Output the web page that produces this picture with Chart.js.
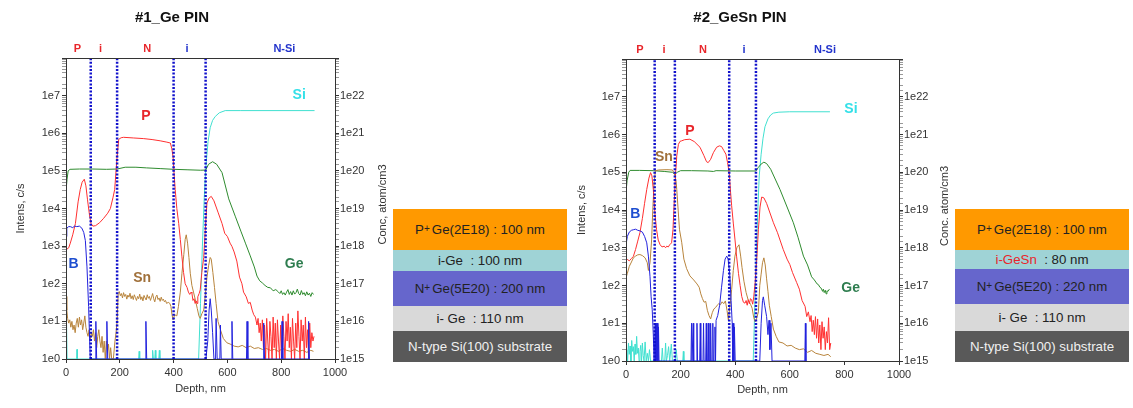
<!DOCTYPE html>
<html>
<head>
<meta charset="utf-8">
<script src="https://cdn.jsdelivr.net/npm/chart.js@4.4.1/dist/chart.umd.min.js"></script>
<style>
  body { margin: 0; background: #fff; width: 1133px; height: 408px; position: relative; overflow: hidden;
         font-family: "Liberation Sans", Arial, sans-serif; }
  canvas { position: absolute; top: 0; }
  .stack { position: absolute; top: 209px; width: 174px; }
  .stack div { display: flex; align-items: center; justify-content: center; font-size: 13.3px; color: #222; white-space: pre; }
  .stack sup { font-size: 10px; position: relative; top: -1px; margin-right: 2px; }
</style>
</head>
<body>
<canvas id="c1" width="395" height="408" style="left:0px"></canvas>
<canvas id="c2" width="395" height="408" style="left:560px"></canvas>
<div class="stack" id="stack1" style="left:393px"></div>
<div class="stack" id="stack2" style="left:955px"></div>

<script>
// =============================================================
// DATA  (depth nm, intensity c/s)
// =============================================================
const REGION_NAMES  = ['P', 'i', 'N', 'i', 'N-Si'];
const REGION_COLORS = ['#e8262b', '#e8262b', '#e8262b', '#2233cc', '#2233cc'];
const REGION_AT1 = [42, 128, 302, 450, 812];
const REGION_AT2 = [51, 139, 282, 432, 729];

const BOUND1 = [92, 190, 400, 519];
const BOUND2 = [105, 179, 378, 476];

const X_TICKS = [0, 200, 400, 600, 800, 1000];

// ---- #1 Ge PIN ----
const GE1 = [[0,3e4],[4,6e4],[8,1.0e5],[15,1.1e5],[50,1.12e5],[100,1.12e5],[150,1.1e5],[190,1.12e5],[220,1.25e5],[260,1.25e5],[300,1.2e5],[350,1.15e5],[400,1.1e5],[450,1.07e5],[500,1.04e5],[519,1.05e5],[530,1.5e5],[545,1.75e5],[560,1.5e5],[580,9e4],[605,1.8e4],[630,6e3],[650,2.5e3],[667,1.2e3],[685,5.5e2],[700,2.8e2],[710,1.6e2],[720,1.2e2],[730,1.05e2],[740,9e1],[750,8e1],[760,7.8e1],[770,6.5e1],[780,7e1],[790,6e1],[795,5.5e1],[800,6.5e1],[805,5.2e1],[810,5.8e1],[815,5.0e1],[820,6.0e1],[825,7e1],[830,5.2e1],[835,6.2e1],[840,5.0e1],[845,6.5e1],[850,5.3e1],[855,5.8e1],[860,7.2e1],[865,5.5e1],[870,5.0e1],[875,6.6e1],[880,5.2e1],[885,5.8e1],[890,4.8e1],[895,6.1e1],[900,5.0e1],[905,5.6e1],[910,4.6e1],[915,5.8e1],[920,5.2e1]];

const SI1 = [[0,1],[2,8],[4,1],[40,1],[41,1.8],[42,1],[270,1],[272,1.6],[274,1],[320,1],[322,1.7],[325,1],[330,1],[332,1.7],[334,1],[345,1],[347,1.7],[349,1],[493,1],[500,30],[507,1e3],[514,2e4],[520,1.3e5],[528,6e5],[536,1.4e6],[545,2.2e6],[555,2.8e6],[570,3.5e6],[592,4.0e6],[650,4.0e6],[924,4.0e6]];

const P1 = [[0,8e2],[10,9e2],[16,1.2e3],[25,2e3],[35,4e3],[45,1.5e4],[53,3.2e4],[60,5e4],[68,6e4],[74,4e4],[80,1.7e4],[87,7e3],[93,4e3],[100,3.4e3],[110,3.5e3],[125,4.2e3],[140,5.5e3],[155,7.5e3],[165,1e4],[175,2e4],[181,3.2e4],[186,1e5],[190,2.4e5],[196,6.9e5],[205,7.6e5],[214,7.8e5],[250,7.5e5],[289,7.2e5],[320,6.8e5],[350,6.3e5],[375,5.8e5],[388,5.5e5],[393,4e5],[398,2.4e5],[402,8e4],[406,3.2e4],[412,1e4],[419,4e3],[425,1.5e3],[431,5.2e2],[437,2e2],[443,1e2],[450,8e1],[455,6e1],[460,5.2e1],[465,6e1],[468,5.6e1],[472,3.6e1],[476,4e1],[480,3e1],[484,3.5e1],[487,3e1],[490,4.5e1],[495,5.5e1],[499,6.9e1],[505,2e2],[512,5e2],[518,3e3],[524,1.4e4],[532,1.9e4],[540,2.1e4],[550,1.6e4],[565,8e3],[580,4e3],[590,2.2e3],[600,1.8e3],[610,1.2e3],[617,9.8e2],[625,7e2],[635,4e2],[645,1.5e2],[654,1e2],[660,6e1],[670,4.5e1],[678,3e1],[685,3.2e1],[692,2e1],[698,1.5e1],[704,1.3e1],[710,8],[714,1.2e1],[718,5],[722,9],[726,3],[730,1.1e1],[734,2],[738,8],[742,1],[746,1.2e1],[750,3],[754,1],[758,1e1],[762,4],[766,1],[770,1.3e1],[774,2],[778,9],[782,1],[786,1.1e1],[790,3],[794,1],[798,8],[802,2],[806,1.4e1],[810,4],[814,1],[818,1e1],[822,3],[826,1.6e1],[830,2],[834,7],[838,1],[842,1.2e1],[846,3],[850,1],[854,9],[858,2],[862,1.9e1],[866,4],[870,1],[874,1.1e1],[878,3],[882,8],[886,1],[890,1.3e1],[894,2],[898,6],[902,1],[906,9],[910,2],[914,5],[918,3],[922,4]];

const B1 = [[0,1.8e3],[3,3e3],[10,3.3e3],[16,3.3e3],[25,3.1e3],[32,3.4e3],[40,3.3e3],[50,3.4e3],[59,3.0e3],[66,2.3e3],[72,1.4e3],[78,2.8e2],[84,2.5e1],[88,3],[90,1],[108,1],[111,1e1],[114,1],[150,1],[152,1e1],[155,1],[295,1],[297,1e1],[300,1],[520,1],[527,3],[532,2e1],[536,4e1],[540,2e1],[545,5],[550,1],[556,1],[558,1.2e1],[562,1],[572,1],[574,8],[577,1],[615,1],[617,1e1],[620,1],[671,1],[673,1e1],[676,1],[733,1],[735,9],[738,1],[801,1],[803,1e1],[806,1],[900,1],[902,1e1],[905,1]];

const SN1 = [[0,4.6e1],[3,2e1],[6,1.2e1],[10,9],[14,1.1e1],[18,7],[22,1e1],[26,6],[30,8],[34,5],[38,9],[42,1.2e1],[46,7],[50,1.3e1],[54,8],[58,1.1e1],[62,6],[66,9],[70,1.4e1],[74,7],[78,5],[82,4],[86,6],[90,3],[94,5],[98,4],[102,6],[106,3],[110,5],[114,2],[118,4],[122,6],[126,3],[130,2],[134,4],[138,1.5],[142,3],[146,1],[150,3],[154,1.5],[158,2.5],[162,1],[166,2],[170,1],[176,1],[182,3],[186,5],[190,1e1],[194,5.5e1],[198,6.2e1],[202,4.8e1],[206,5.5e1],[210,4.2e1],[214,5.8e1],[218,4.6e1],[222,5.2e1],[226,3.9e1],[230,5e1],[234,4.4e1],[238,5.6e1],[242,4e1],[246,4.8e1],[250,3.8e1],[254,5.1e1],[258,4.3e1],[262,3.6e1],[266,4.6e1],[270,4e1],[274,5.3e1],[278,3.8e1],[282,4.5e1],[286,3.5e1],[290,4.9e1],[294,4.2e1],[298,3.7e1],[302,5.1e1],[306,4.1e1],[310,4.6e1],[314,3.6e1],[318,4.4e1],[322,5.5e1],[326,4e1],[330,3.3e1],[334,4.5e1],[338,5e1],[342,3.8e1],[346,4.2e1],[350,3.4e1],[354,4.4e1],[358,3.6e1],[362,3.9e1],[366,3.3e1],[370,3.6e1],[374,3e1],[380,3.2e1],[386,3e1],[390,2.5e1],[394,1.5e1],[398,1.1e1],[404,1.5e1],[412,1.4e1],[418,2.5e1],[425,6e1],[431,1.9e2],[438,6e2],[443,1.5e3],[447,2e3],[452,1.2e3],[457,5e2],[462,1.9e2],[468,9e1],[474,6e1],[481,3.7e1],[488,2.2e1],[494,1.4e1],[499,1.2e1],[505,1.6e1],[512,2e1],[518,5e1],[524,1.5e2],[530,3e2],[536,5e2],[540,4.5e2],[546,2e2],[552,8e1],[558,3e1],[565,1e1],[574,6],[585,3.5],[598,2.7],[610,2.5],[625,2.2],[640,2.1],[655,2.3],[670,2],[685,2.2],[700,1.9],[715,2],[730,1.8],[745,1.9],[760,1.7],[775,1.8],[790,1.6],[805,1.9],[820,1.7],[835,1.6],[850,1.8],[865,1.6],[880,1.7],[895,1.5],[910,1.7],[920,1.6]];

// ---- #2 GeSn PIN ----
const GE2 = [[0,3e4],[4,6e4],[10,1.0e5],[15,1.12e5],[50,1.12e5],[100,1.1e5],[140,1.05e5],[170,1.0e5],[179,8.8e4],[188,1.0e5],[200,1.1e5],[240,1.1e5],[300,1.08e5],[320,1.05e5],[330,1.1e5],[400,1.08e5],[476,1.08e5],[485,1.35e5],[495,1.65e5],[505,1.85e5],[515,1.7e5],[530,1.2e5],[564,3.5e4],[590,1.2e4],[613,4.6e3],[630,1.9e3],[650,6e2],[665,3.5e2],[680,1.7e2],[690,1.4e2],[700,1.1e2],[705,1.05e2],[710,9e1],[715,8.5e1],[720,7e1],[723,8e1],[726,6.5e1],[730,7.5e1],[733,6e1],[736,7.2e1],[740,7e1],[745,8e1]];

const SI2 = [[0,1],[3,2],[6,1],[9,3],[12,1.5],[15,2.5],[18,1],[21,3.5],[24,1.8],[27,2.4],[30,1],[33,2.8],[36,1.5],[39,4.5],[42,1.6],[45,2.2],[48,1],[51,1.8],[54,2.6],[57,1],[60,3],[63,1.4],[66,1],[70,3.2],[74,1],[78,1.6],[82,1],[86,2],[90,1],[130,1],[133,2.2],[136,1],[142,1],[145,3],[148,1],[152,1.4],[156,2.4],[160,1],[166,2.8],[170,1],[180,1],[184,2],[188,1],[208,1],[210,1.8],[212,1],[466,1],[472,30],[478,1e3],[483,1e4],[488,8e4],[495,3e5],[502,8e5],[509,1.6e6],[520,2.6e6],[530,3.3e6],[540,3.7e6],[560,3.9e6],[600,4.0e6],[747,4.0e6]];

const P2 = [[0,4.5e2],[5,4.9e2],[12,4.5e2],[20,5.2e2],[27,5.9e2],[35,9e2],[43,1.5e3],[51,2.5e3],[60,6e3],[68,1.5e4],[76,3.5e4],[84,7e4],[90,9.8e4],[95,8e4],[100,3.5e4],[106,8e3],[112,3e3],[118,1.6e3],[125,1.2e3],[132,1.05e3],[140,1.1e3],[145,1.0e3],[149,1.1e3],[155,1.05e3],[160,1.2e3],[167,1.35e3],[172,3e3],[176,1.3e4],[181,8e4],[186,2.7e5],[192,5.5e5],[198,6.6e5],[204,6.8e5],[215,7.3e5],[234,7.5e5],[250,6.5e5],[271,4.6e5],[285,2.8e5],[295,1.9e5],[301,1.8e5],[310,2.2e5],[320,3.3e5],[332,4.6e5],[342,5e5],[350,4.8e5],[358,3.8e5],[366,3e5],[372,1.8e5],[378,9.8e4],[383,3e4],[387,1.3e4],[393,4.5e3],[399,1.7e3],[405,6e2],[412,2.1e2],[418,1e2],[424,5.1e1],[430,3.6e1],[436,3.4e1],[440,4e1],[444,3e1],[448,4.2e1],[452,3.3e1],[456,4.5e1],[460,4.2e1],[464,3.2e1],[468,5e1],[473,1.2e2],[479,5e2],[485,3e3],[491,1.2e4],[497,2.2e4],[505,2.1e4],[515,1.5e4],[540,4.6e3],[555,2.5e3],[576,9e2],[590,5e2],[600,3.6e2],[610,2.2e2],[625,1.2e2],[635,8e1],[645,4e1],[656,2.8e1],[662,1.5e1],[668,2e1],[674,1.1e1],[678,1.6e1],[682,6],[686,1.2e1],[690,5],[694,1.5e1],[698,4],[702,1.3e1],[706,3],[710,9],[714,2],[718,1.1e1],[722,4],[726,8],[730,2],[734,6],[738,3],[742,1.4e1],[746,2],[750,3]];

const B2 = [[0,1.2e3],[5,2e3],[12,2.6e3],[20,2.9e3],[27,3e3],[35,3.1e3],[43,2.9e3],[51,2.8e3],[60,2.6e3],[68,2.0e3],[76,1.35e3],[82,6e2],[88,1.7e2],[92,5e1],[96,2.3e1],[100,5],[103,1],[106,1],[107,1e1],[109,1],[111,1e1],[113,1],[115,1e1],[117,1],[119,8],[121,1],[238,1],[240,1e1],[242,1],[246,1e1],[248,1],[258,1],[260,1e1],[262,1],[270,1],[272,1e1],[274,1],[282,1],[284,1e1],[286,1],[292,1],[294,1e1],[296,1],[300,1],[302,1e1],[304,1],[308,1],[310,1e1],[312,1],[316,1],[318,1e1],[320,1],[324,1],[326,8],[328,1],[330,1.2e1],[336,1.6e1],[343,3e1],[350,9e1],[357,2.5e2],[363,5e2],[369,6e2],[374,5e2],[380,2e2],[385,4e1],[389,1e1],[391,1],[393,1e1],[395,1],[397,8],[400,1],[490,1],[495,1e1],[500,4e1],[503,5e1],[508,3e1],[515,1.5e1],[520,5],[524,1.2e1],[527,2],[531,1e1],[535,1],[655,1],[657,1e1],[659,1]];

const SN2 = [[0,1.6e2],[5,2.1e2],[12,3.2e2],[20,4.2e2],[27,5.4e2],[35,6e2],[43,6.5e2],[51,6.6e2],[60,6.2e2],[70,5.4e2],[78,4e2],[82,2.5e2],[88,4e2],[94,1.7e3],[98,1e4],[103,5.4e4],[108,1.1e5],[120,1.15e5],[150,1.17e5],[170,1.15e5],[178,9e4],[183,6e4],[186,3.5e4],[191,1e4],[196,3e3],[204,1.4e3],[212,5e2],[222,2.8e2],[234,1.8e2],[248,1.4e2],[260,1.1e2],[268,9e1],[274,6e1],[280,4.5e1],[286,3.6e1],[292,3.8e1],[298,2.2e1],[304,1.6e1],[310,1.3e1],[316,1.9e1],[322,2.4e1],[328,2.6e1],[334,3e1],[340,3.3e1],[346,3.1e1],[352,3.7e1],[358,3.3e1],[364,3.9e1],[370,2.2e1],[375,1.2e1],[381,3e1],[387,7.8e1],[393,2.5e2],[399,6e2],[406,1e3],[414,1.2e3],[420,6e2],[425,3e2],[432,1.3e2],[440,6.5e1],[448,4e1],[456,3.2e1],[462,2.5e1],[468,1.4e1],[473,1.1e1],[478,1.3e1],[485,2e1],[490,1e2],[495,2e2],[500,4e2],[505,5.4e2],[510,3.5e2],[515,1.5e2],[520,7e1],[525,3e1],[532,1.5e1],[540,7],[550,4.5],[560,3.2],[575,3],[590,2.5],[605,2.6],[620,2.2],[635,2],[650,2.1],[665,1.7],[680,1.9],[695,1.6],[710,1.5],[725,1.4],[740,1.5],[750,1.3]];

// label tags inside the plots: [text, depth, value]
const TAGS1 = [['P', 297, 2.8e6], ['Si', 867, 1.05e7], ['B', 28, 3.4e2], ['Sn', 283, 1.4e2], ['Ge', 848, 3.4e2]];
const TAGS2 = [['P', 234, 1.2e6], ['Sn', 139, 2.5e5], ['Si', 824, 4.8e6], ['B', 34, 7.6e3], ['Ge', 823, 86]];

// layer stacks
const LAYERS1 = ['P<sup>+</sup>Ge(2E18) : 100 nm', 'i-Ge  : 100 nm', 'N<sup>+</sup>Ge(5E20) : 200 nm', 'i- Ge  : 110 nm', 'N-type Si(100) substrate'];
const LAYERS2 = ['P<sup>+</sup>Ge(2E18) : 100 nm', '<span style="color:#e8262b">i-GeSn</span>  : 80 nm', 'N<sup>+</sup>Ge(5E20) : 220 nm', 'i- Ge  : 110 nm', 'N-type Si(100) substrate'];



// =============================================================
// STYLE
// =============================================================
const FONT = '"Liberation Sans", Arial, sans-serif';
Chart.defaults.font.family = FONT;
Chart.defaults.color = '#333';

const COL = { P: '#ff3030', Ge: '#2e8b2e', Si: '#40e0d0', B: '#2222dd', Sn: '#b8843c' };
const TAG_COL = { P: '#e8262b', Ge: '#2e7d4f', Si: '#33e0e8', B: '#1f4fd0', Sn: '#a0703a' };
const LAYER_BG = ['#ff9900', '#9fd3d6', '#6666cc', '#d9d9d9', '#595959'];
const LAYER_FG = ['#222', '#222', '#222', '#222', '#f0f0f0'];
const LAYER_H1 = [41, 21, 35, 25, 31];
const LAYER_H2 = [41, 19, 35, 27, 31];

const isPow10 = v => { const e = Math.round(Math.log10(v)); return Math.abs(v / Math.pow(10, e) - 1) < 1e-6; };

function series(pts, color) {
    return {
        data: pts.map(p => ({ x: p[0], y: p[1] })),
        borderColor: color, borderWidth: 1, pointRadius: 0, tension: 0, fill: false
    };
}
function boundary(x) {
    return {
        data: [{ x: x, y: 1 }, { x: x, y: 1e8 }],
        borderColor: '#1010cc', borderWidth: 2.5, borderDash: [2, 1.6], pointRadius: 0
    };
}



// =============================================================
// ANNOTATION PLUGIN (frame, titles, region names, tags)
// =============================================================
const annot = {
    id: 'annot',
    afterDatasetsDraw(chart, args, o) {
        const { ctx, chartArea: a, scales } = chart;
        ctx.save();
        ctx.strokeStyle = '#333';
        ctx.lineWidth = 1;
        ctx.strokeRect(Math.round(a.left) + 0.5, Math.round(a.top) + 0.5, a.right - a.left, a.bottom - a.top);

        ctx.textAlign = 'center';
        ctx.textBaseline = 'middle';
        ctx.fillStyle = '#111';
        ctx.font = 'bold 15px ' + FONT;
        ctx.fillText(o.title, o.titleX, 18);

        // right axis title, reading bottom to top
        ctx.fillStyle = '#333';
        ctx.font = '11px ' + FONT;
        ctx.save();
        ctx.translate(o.rTitleX, (a.top + a.bottom) / 2 - 4);
        ctx.rotate(-Math.PI / 2);
        ctx.fillText(o.rTitle, 0, 0);
        ctx.restore();

        ctx.font = 'bold 11px ' + FONT;
        REGION_NAMES.forEach((n, i) => {
            ctx.fillStyle = REGION_COLORS[i];
            ctx.fillText(n, scales.x.getPixelForValue(o.regionAt[i]), a.top - 9);
        });

        ctx.font = 'bold 14px ' + FONT;
        o.tags.forEach(t => {
            ctx.fillStyle = TAG_COL[t[0]];
            ctx.fillText(t[0], scales.x.getPixelForValue(t[1]), scales.y.getPixelForValue(t[2]));
        });
        ctx.restore();
    }
};



// =============================================================
// CHART BUILDER
// =============================================================
function logAxis(pos, min, max, width, title, titlePad) {
    return {
        type: 'logarithmic', position: pos, min: min, max: max,
        afterFit: s => { s.width = width; },
        border: { color: '#333' },
        grid: {
            drawOnChartArea: false, drawTicks: true, tickLength: 4,
            color: c => (c.tick && isPow10(c.tick.value)) ? '#333' : '#999'
        },
        ticks: {
            autoSkip: false, padding: pos === 'left' ? 2 : 1, font: { size: 11 },
            callback: v => (isPow10(v) && v < max * 0.99) ? '1e' + Math.round(Math.log10(v)) : ''
        },
        title: { display: !!title, text: title, font: { size: 11 }, padding: { top: titlePad, bottom: 0 } }
    };
}

function makeChart(id, d) {
    const datasets = d.bounds.map(boundary).concat([
        series(d.b, COL.B),
        series(d.p, COL.P),
        series(d.sn, COL.Sn),
        series(d.ge, COL.Ge),
        series(d.si, COL.Si)
    ]);
    return new Chart(document.getElementById(id), {
        type: 'line',
        data: { datasets },
        options: {
            responsive: false, animation: false, devicePixelRatio: 1,
            layout: { padding: { top: d.top, left: 0, right: 0, bottom: 0 } },
            plugins: { legend: { display: false }, tooltip: { enabled: false },
                       annot: { title: d.title, titleX: d.titleX, regionAt: d.regionAt, tags: d.tags,
                                rTitle: d.rTitle, rTitleX: d.rTitleX } },
            scales: {
                x: {
                    type: 'linear', min: 0, max: 1000,
                    afterFit: s => { s.height = d.xh; },
                    afterBuildTicks: s => { s.ticks = X_TICKS.map(v => ({ value: v })); },
                    border: { color: '#333' },
                    grid: { drawOnChartArea: false, drawTicks: true, tickLength: 4, color: '#333' },
                    ticks: { padding: 3, font: { size: 11 }, callback: v => String(v) },
                    title: { display: true, text: 'Depth, nm', font: { size: 11 }, padding: { top: 0, bottom: d.xPad } }
                },
                y:  logAxis('left', 1, 1e8, d.lw, 'Intens, c/s', d.lPad),
                y2: logAxis('right', 1e15, 1e23, d.rw, '', 0)
            }
        },
        plugins: [annot]
    });
}

makeChart('c1', {
    title: '#1_Ge PIN', titleX: 172, regionAt: REGION_AT1, tags: TAGS1, bounds: BOUND1,
    ge: GE1, si: SI1, p: P1, b: B1, sn: SN1,
    top: 58, xh: 49, lw: 66, rw: 60, xPad: 12, lPad: 14, rTitle: 'Conc, atom/cm3', rTitleX: 383
});
makeChart('c2', {
    title: '#2_GeSn PIN', titleX: 180, regionAt: REGION_AT2, tags: TAGS2, bounds: BOUND2,
    ge: GE2, si: SI2, p: P2, b: B2, sn: SN2,
    top: 59, xh: 47, lw: 66, rw: 56, xPad: 11, lPad: 15, rTitle: 'Conc. atom/cm3', rTitleX: 385
});



// =============================================================
// LAYER STACKS
// =============================================================
function buildStack(id, texts, heights) {
    const el = document.getElementById(id);
    texts.forEach((t, i) => {
        const div = document.createElement('div');
        div.style.height = heights[i] + 'px';
        div.style.background = LAYER_BG[i];
        div.style.color = LAYER_FG[i];
        div.innerHTML = t;
        el.appendChild(div);
    });
}
buildStack('stack1', LAYERS1, LAYER_H1);
buildStack('stack2', LAYERS2, LAYER_H2);
</script>
</body>
</html>
